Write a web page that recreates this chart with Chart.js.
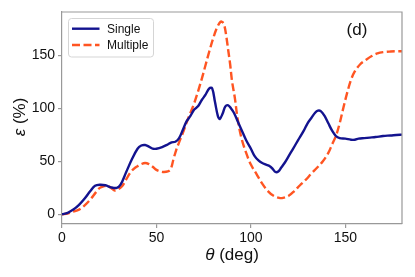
<!DOCTYPE html>
<html>
<head>
<meta charset="utf-8">
<script src="https://cdn.jsdelivr.net/npm/chart.js@4.4.1/dist/chart.umd.min.js"></script>
<style>
  html, body { margin: 0; padding: 0; background: #fff; }
  #wrap { width: 415px; height: 277px; }
</style>
</head>
<body>
<div id="wrap"><canvas id="myChart" width="415" height="277"></canvas></div>
<script>
// values
const singleTheta = [0, 3, 6, 9, 12, 15, 17.5, 20, 23, 26, 29, 31, 34, 37, 40, 42, 44, 46, 48, 50,
    53, 56, 58, 60, 62, 64, 66, 68, 70, 72, 74, 76, 78, 79.5, 81, 82.5, 83.5, 85, 86.5, 88,
    89.5, 91, 93, 95, 97.5, 100, 102, 104, 106, 108, 110, 111.5, 113, 114.5, 116, 118, 120, 122, 125, 128,
    130, 132, 134, 135.5, 137, 139, 141, 143, 145, 147, 150, 153, 155, 157, 160, 163, 166, 170, 174, 177, 180];
const singleEps = [0, 1.5, 4.5, 9, 15, 22, 27, 28, 27.5, 25.5, 25, 28, 40, 52, 62, 65, 65.5, 64, 62, 62,
    63.5, 66, 68, 68.5, 72, 80, 88, 93, 99, 102, 108, 113, 119, 119, 106, 93, 90, 95, 102, 103,
    100, 96, 88, 80, 70, 62, 55, 51, 48.5, 47, 45.5, 43, 40, 40.5, 44, 49, 55, 61, 70, 79,
    86, 91, 96, 98, 97.5, 93, 86, 79, 74, 72, 71.5, 70.5, 70.5, 71.5, 72, 72.5, 73, 74, 74.5, 75, 75.3];

const multiTheta = [0, 3, 6, 9, 12, 15, 18, 20, 22, 24, 26, 28, 30, 32, 34, 36, 38, 40, 42, 44,
    46, 48, 50, 52, 54, 56, 57.5, 59, 60.5, 62, 64, 66, 68, 70, 72, 74, 76, 78, 80, 82,
    84, 85, 86, 87, 88, 89, 90, 91.5, 93, 95, 97.5, 100, 103, 106, 109, 112, 115, 117, 120, 123,
    126, 129, 132, 135, 138, 141, 143, 145, 147, 149, 151, 153, 155, 158, 161, 164, 167, 170, 174, 177, 180];
const multiEps = [0, 0.8, 2.5, 4.5, 8.5, 14, 21, 25, 26.5, 27, 25, 22.5, 24, 27, 33, 39, 43, 45.5, 47.5, 48.5,
    47.5, 45, 42, 40.5, 40, 40.5, 42.5, 52, 61, 68, 77, 87, 96, 105, 116, 128, 141, 154, 166, 176,
    182, 181.5, 178, 168, 155, 142, 126, 110, 90, 72, 58, 47, 38, 29, 22, 17.5, 15.5, 15.5, 17.5, 22,
    27.5, 32.5, 38.5, 44, 50, 58, 66, 74, 86, 101, 115, 127, 135, 142, 146, 149.5, 152, 153.2, 153.8, 154, 154];

const xTicks = [0, 50, 100, 150];
const yTicks = [0, 50, 100, 150];
const seriesNames = ['Single', 'Multiple'];

const FONT = '"Liberation Sans", Arial, Helvetica, sans-serif';
const spineColor = '#999999';

const pts = (xs, ys) => xs.map((x, i) => ({ x: x, y: ys[i] }));

const decor = {
    id: 'decor',
    afterDraw(chart) {
        const ctx = chart.ctx;
        const a = chart.chartArea;
        ctx.save();

        // top and right spines
        ctx.strokeStyle = spineColor;
        ctx.lineWidth = 1.2;
        ctx.beginPath();
        ctx.moveTo(a.left, a.top);
        ctx.lineTo(a.right, a.top);
        ctx.lineTo(a.right, a.bottom);
        ctx.stroke();

        // legend box
        const lx = 68.5, ly = 18.5, lw = 85, lh = 38.5;
        ctx.fillStyle = 'rgba(255,255,255,0.9)';
        ctx.strokeStyle = '#d5d5d5';
        ctx.lineWidth = 1;
        ctx.beginPath();
        ctx.roundRect(lx, ly, lw, lh, 3);
        ctx.fill();
        ctx.stroke();

        const ds = chart.data.datasets;
        const rows = [28.7, 45];
        ds.forEach((d, i) => {
            ctx.strokeStyle = d.borderColor;
            ctx.lineWidth = d.borderWidth;
            ctx.setLineDash(d.borderDash || []);
            ctx.beginPath();
            ctx.moveTo(72, rows[i]);
            ctx.lineTo(99.5, rows[i]);
            ctx.stroke();
            ctx.setLineDash([]);
            ctx.fillStyle = '#111';
            ctx.font = '12px ' + FONT;
            ctx.textBaseline = 'middle';
            ctx.textAlign = 'left';
            ctx.fillText(d.label, 107, rows[i] + 0.5);
        });

        // panel tag
        ctx.fillStyle = '#111';
        ctx.font = '17px ' + FONT;
        ctx.textAlign = 'center';
        ctx.textBaseline = 'middle';
        ctx.fillText('(d)', 357, 30);

        // x axis title: italic theta + (deg)
        ctx.font = 'italic 17px ' + FONT;
        const th = 'θ';
        const rest = ' (deg)';
        const wTh = ctx.measureText(th).width;
        ctx.font = '17px ' + FONT;
        const wRest = ctx.measureText(rest).width;
        let sx = 232 - (wTh + wRest) / 2;
        ctx.textAlign = 'left';
        ctx.font = 'italic 17px ' + FONT;
        ctx.fillText(th, sx, 255);
        ctx.font = '17px ' + FONT;
        ctx.fillText(rest, sx + wTh, 255);

        // y axis title: italic epsilon + (%)
        ctx.translate(20, 117);
        ctx.rotate(-Math.PI / 2);
        ctx.font = 'italic 17px ' + FONT;
        const ep = 'ε';
        const rest2 = ' (%)';
        const wEp = ctx.measureText(ep).width;
        ctx.font = '17px ' + FONT;
        const wRest2 = ctx.measureText(rest2).width;
        sx = -(wEp + wRest2) / 2;
        ctx.font = 'italic 17px ' + FONT;
        ctx.fillText(ep, sx, 0);
        ctx.font = '17px ' + FONT;
        ctx.fillText(rest2, sx + wEp, 0);

        ctx.restore();
    }
};

new Chart(document.getElementById('myChart').getContext('2d'), {
    type: 'line',
    data: {
        datasets: [{
            label: seriesNames[0],
            data: pts(singleTheta, singleEps),
            borderColor: '#13138f',
            borderWidth: 2.4,
            pointRadius: 0,
            tension: 0.35,
            fill: false
        },
        {
            label: seriesNames[1],
            data: pts(multiTheta, multiEps),
            borderColor: '#ff5522',
            borderWidth: 2.4,
            borderDash: [8, 3.5],
            pointRadius: 0,
            tension: 0.35,
            fill: false
        }]
    },
    options: {
        responsive: false,
        animation: false,
        events: [],
        layout: { padding: { left: 0, right: 13, top: 12, bottom: 0 } },
        plugins: {
            legend: { display: false },
            tooltip: { enabled: false }
        },
        scales: {
            x: {
                type: 'linear',
                min: 0,
                max: 180,
                afterBuildTicks: (s) => { s.ticks = xTicks.map(v => ({ value: v })); },
                afterFit: (s) => { s.height = 53; },
                grid: { display: true, drawOnChartArea: false, drawTicks: true, tickLength: 4, color: spineColor, lineWidth: 1.2 },
                border: { display: true, color: spineColor, width: 1.2 },
                ticks: { color: '#111', font: { family: FONT, size: 14 }, padding: 2, maxRotation: 0 }
            },
            y: {
                type: 'linear',
                min: -9.1,
                max: 191.1,
                afterBuildTicks: (s) => { s.ticks = yTicks.map(v => ({ value: v })); },
                afterFit: (s) => { s.width = 62; },
                grid: { display: true, drawOnChartArea: false, drawTicks: true, tickLength: 4, color: spineColor, lineWidth: 1.2 },
                border: { display: true, color: spineColor, width: 1.2 },
                ticks: { color: '#111', font: { family: FONT, size: 14 }, padding: 3 }
            }
        }
    },
    plugins: [decor]
});
</script>
</body>
</html>
